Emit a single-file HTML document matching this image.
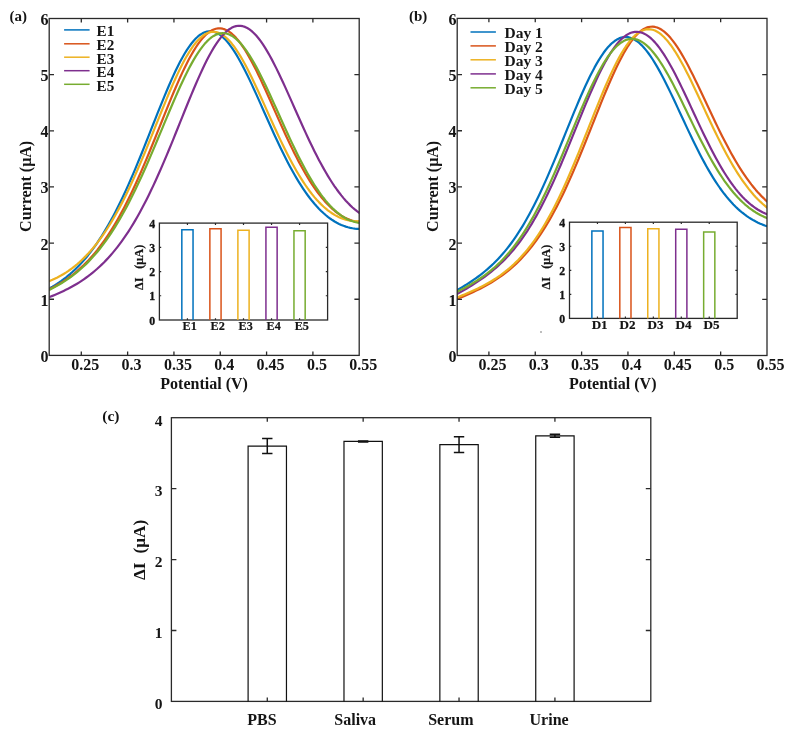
<!DOCTYPE html>
<html><head><meta charset="utf-8"><style>
html,body{margin:0;padding:0;background:#fff;}
body{width:792px;height:735px;overflow:hidden;}
svg{display:block;filter:blur(0.4px);}
</style></head><body>
<svg width="792" height="735" viewBox="0 0 792 735">
<rect width="792" height="735" fill="#fff"/>
<clipPath id="clipa"><rect x="49.2" y="18.5" width="310.0" height="336.9"/></clipPath>
<g clip-path="url(#clipa)" fill="none" stroke-width="2.2" stroke-linejoin="round" stroke-linecap="round">
<path d="M47.95,289.2 L50.19,287.99 L52.43,286.71 L54.67,285.36 L56.91,283.95 L59.15,282.46 L61.39,280.89 L63.63,279.24 L65.86,277.51 L68.1,275.69 L70.34,273.79 L72.58,271.79 L74.82,269.69 L77.06,267.5 L79.3,265.2 L81.54,262.8 L83.78,260.29 L86.02,257.67 L88.26,254.94 L90.5,252.08 L92.74,249.12 L94.98,246.02 L97.22,242.81 L99.45,239.47 L101.69,236 L103.93,232.41 L106.17,228.68 L108.41,224.83 L110.65,220.84 L112.89,216.72 L115.13,212.48 L117.37,208.1 L119.61,203.6 L121.85,198.97 L124.09,194.22 L126.33,189.36 L128.57,184.38 L130.81,179.29 L133.05,174.1 L135.28,168.82 L137.52,163.45 L139.76,158 L142,152.48 L144.24,146.91 L146.48,141.28 L148.72,135.63 L150.96,129.95 L153.2,124.27 L155.44,118.6 L157.68,112.96 L159.92,107.35 L162.16,101.81 L164.4,96.34 L166.64,90.97 L168.87,85.72 L171.11,80.6 L173.35,75.63 L175.59,70.84 L177.83,66.24 L180.07,61.85 L182.31,57.7 L184.55,53.79 L186.79,50.15 L189.03,46.79 L191.27,43.73 L193.51,40.98 L195.75,38.55 L197.99,36.46 L200.23,34.71 L202.47,33.32 L204.7,32.28 L206.94,31.61 L209.18,31.3 L211.42,31.35 L213.66,31.77 L215.9,32.55 L218.14,33.68 L220.38,35.15 L222.62,36.96 L224.86,39.1 L227.1,41.54 L229.34,44.29 L231.58,47.32 L233.82,50.62 L236.06,54.16 L238.29,57.94 L240.53,61.93 L242.77,66.11 L245.01,70.47 L247.25,74.98 L249.49,79.62 L251.73,84.38 L253.97,89.23 L256.21,94.16 L258.45,99.14 L260.69,104.16 L262.93,109.2 L265.17,114.25 L267.41,119.29 L269.65,124.3 L271.89,129.26 L274.12,134.18 L276.36,139.03 L278.6,143.8 L280.84,148.48 L283.08,153.07 L285.32,157.55 L287.56,161.91 L289.8,166.16 L292.04,170.28 L294.28,174.27 L296.52,178.12 L298.76,181.84 L301,185.41 L303.24,188.84 L305.48,192.12 L307.71,195.25 L309.95,198.23 L312.19,201.07 L314.43,203.76 L316.67,206.3 L318.91,208.69 L321.15,210.94 L323.39,213.04 L325.63,215.01 L327.87,216.83 L330.11,218.51 L332.35,220.05 L334.59,221.47 L336.83,222.75 L339.07,223.9 L341.31,224.92 L343.54,225.83 L345.78,226.61 L348.02,227.27 L350.26,227.82 L352.5,228.26 L354.74,228.59 L356.98,228.81 L359.22,228.92" stroke="#0072BD"/>
<path d="M47.95,289.79 L50.19,288.73 L52.43,287.61 L54.67,286.44 L56.91,285.21 L59.15,283.93 L61.39,282.58 L63.63,281.17 L65.86,279.69 L68.1,278.13 L70.34,276.51 L72.58,274.81 L74.82,273.02 L77.06,271.16 L79.3,269.2 L81.54,267.16 L83.78,265.03 L86.02,262.8 L88.26,260.47 L90.5,258.03 L92.74,255.5 L94.98,252.85 L97.22,250.1 L99.45,247.23 L101.69,244.24 L103.93,241.14 L106.17,237.91 L108.41,234.57 L110.65,231.1 L112.89,227.51 L115.13,223.79 L117.37,219.94 L119.61,215.97 L121.85,211.87 L124.09,207.65 L126.33,203.3 L128.57,198.83 L130.81,194.24 L133.05,189.53 L135.28,184.71 L137.52,179.78 L139.76,174.75 L142,169.62 L144.24,164.4 L146.48,159.1 L148.72,153.72 L150.96,148.28 L153.2,142.79 L155.44,137.25 L157.68,131.68 L159.92,126.1 L162.16,120.51 L164.4,114.93 L166.64,109.38 L168.87,103.86 L171.11,98.41 L173.35,93.04 L175.59,87.76 L177.83,82.59 L180.07,77.55 L182.31,72.66 L184.55,67.94 L186.79,63.41 L189.03,59.08 L191.27,54.97 L193.51,51.11 L195.75,47.5 L197.99,44.16 L200.23,41.11 L202.47,38.37 L204.7,35.93 L206.94,33.82 L209.18,32.04 L211.42,30.61 L213.66,29.52 L215.9,28.79 L218.14,28.41 L220.38,28.38 L222.62,28.71 L224.86,29.39 L227.1,30.42 L229.34,31.79 L231.58,33.49 L233.82,35.51 L236.06,37.85 L238.29,40.48 L240.53,43.4 L242.77,46.58 L245.01,50.02 L247.25,53.69 L249.49,57.58 L251.73,61.67 L253.97,65.94 L256.21,70.37 L258.45,74.95 L260.69,79.64 L262.93,84.44 L265.17,89.33 L267.41,94.27 L269.65,99.27 L271.89,104.3 L274.12,109.34 L276.36,114.38 L278.6,119.4 L280.84,124.38 L283.08,129.32 L285.32,134.2 L287.56,139.01 L289.8,143.74 L292.04,148.37 L294.28,152.9 L296.52,157.32 L298.76,161.62 L301,165.79 L303.24,169.84 L305.48,173.74 L307.71,177.5 L309.95,181.12 L312.19,184.59 L314.43,187.91 L316.67,191.07 L318.91,194.08 L321.15,196.93 L323.39,199.63 L325.63,202.17 L327.87,204.55 L330.11,206.78 L332.35,208.85 L334.59,210.77 L336.83,212.53 L339.07,214.15 L341.31,215.61 L343.54,216.93 L345.78,218.1 L348.02,219.13 L350.26,220.02 L352.5,220.77 L354.74,221.38 L356.98,221.86 L359.22,222.21" stroke="#D95319"/>
<path d="M47.95,281.74 L50.19,280.83 L52.43,279.86 L54.67,278.82 L56.91,277.72 L59.15,276.54 L61.39,275.3 L63.63,273.97 L65.86,272.57 L68.1,271.09 L70.34,269.52 L72.58,267.86 L74.82,266.11 L77.06,264.26 L79.3,262.32 L81.54,260.27 L83.78,258.13 L86.02,255.87 L88.26,253.5 L90.5,251.02 L92.74,248.42 L94.98,245.7 L97.22,242.87 L99.45,239.9 L101.69,236.81 L103.93,233.6 L106.17,230.25 L108.41,226.77 L110.65,223.16 L112.89,219.42 L115.13,215.54 L117.37,211.53 L119.61,207.39 L121.85,203.12 L124.09,198.72 L126.33,194.19 L128.57,189.54 L130.81,184.77 L133.05,179.89 L135.28,174.9 L137.52,169.8 L139.76,164.62 L142,159.34 L144.24,153.99 L146.48,148.57 L148.72,143.09 L150.96,137.57 L153.2,132.02 L155.44,126.45 L157.68,120.88 L159.92,115.31 L162.16,109.78 L164.4,104.3 L166.64,98.87 L168.87,93.53 L171.11,88.29 L173.35,83.17 L175.59,78.19 L177.83,73.37 L180.07,68.73 L182.31,64.28 L184.55,60.05 L186.79,56.06 L189.03,52.32 L191.27,48.85 L193.51,45.66 L195.75,42.78 L197.99,40.21 L200.23,37.97 L202.47,36.06 L204.7,34.5 L206.94,33.29 L209.18,32.44 L211.42,31.95 L213.66,31.83 L215.9,32.06 L218.14,32.65 L220.38,33.6 L222.62,34.89 L224.86,36.52 L227.1,38.48 L229.34,40.76 L231.58,43.34 L233.82,46.22 L236.06,49.36 L238.29,52.76 L240.53,56.4 L242.77,60.26 L245.01,64.32 L247.25,68.56 L249.49,72.96 L251.73,77.5 L253.97,82.17 L256.21,86.93 L258.45,91.78 L260.69,96.69 L262.93,101.64 L265.17,106.62 L267.41,111.61 L269.65,116.58 L271.89,121.54 L274.12,126.46 L276.36,131.32 L278.6,136.13 L280.84,140.85 L283.08,145.49 L285.32,150.03 L287.56,154.46 L289.8,158.77 L292.04,162.97 L294.28,167.03 L296.52,170.96 L298.76,174.75 L301,178.4 L303.24,181.9 L305.48,185.25 L307.71,188.45 L309.95,191.49 L312.19,194.38 L314.43,197.12 L316.67,199.7 L318.91,202.12 L321.15,204.39 L323.39,206.51 L325.63,208.48 L327.87,210.29 L330.11,211.96 L332.35,213.48 L334.59,214.86 L336.83,216.09 L339.07,217.19 L341.31,218.14 L343.54,218.97 L345.78,219.66 L348.02,220.22 L350.26,220.65 L352.5,220.97 L354.74,221.16 L356.98,221.23 L359.22,221.18" stroke="#EDB120"/>
<path d="M47.95,297.6 L50.19,296.74 L52.43,295.86 L54.67,294.94 L56.91,294 L59.15,293.02 L61.39,292.01 L63.63,290.95 L65.86,289.86 L68.1,288.73 L70.34,287.55 L72.58,286.32 L74.82,285.04 L77.06,283.7 L79.3,282.31 L81.54,280.86 L83.78,279.35 L86.02,277.77 L88.26,276.12 L90.5,274.41 L92.74,272.61 L94.98,270.74 L97.22,268.79 L99.45,266.76 L101.69,264.63 L103.93,262.42 L106.17,260.11 L108.41,257.71 L110.65,255.21 L112.89,252.6 L115.13,249.89 L117.37,247.07 L119.61,244.14 L121.85,241.1 L124.09,237.94 L126.33,234.67 L128.57,231.27 L130.81,227.75 L133.05,224.12 L135.28,220.35 L137.52,216.47 L139.76,212.46 L142,208.33 L144.24,204.07 L146.48,199.69 L148.72,195.2 L150.96,190.58 L153.2,185.85 L155.44,181.02 L157.68,176.07 L159.92,171.03 L162.16,165.89 L164.4,160.67 L166.64,155.36 L168.87,149.98 L171.11,144.55 L173.35,139.06 L175.59,133.53 L177.83,127.97 L180.07,122.4 L182.31,116.83 L184.55,111.27 L186.79,105.74 L189.03,100.25 L191.27,94.83 L193.51,89.48 L195.75,84.24 L197.99,79.1 L200.23,74.1 L202.47,69.25 L204.7,64.58 L206.94,60.09 L209.18,55.8 L211.42,51.74 L213.66,47.92 L215.9,44.36 L218.14,41.08 L220.38,38.08 L222.62,35.38 L224.86,33 L227.1,30.94 L229.34,29.22 L231.58,27.83 L233.82,26.8 L236.06,26.11 L238.29,25.78 L240.53,25.81 L242.77,26.18 L245.01,26.91 L247.25,27.99 L249.49,29.4 L251.73,31.14 L253.97,33.2 L256.21,35.58 L258.45,38.25 L260.69,41.2 L262.93,44.42 L265.17,47.88 L267.41,51.59 L269.65,55.5 L271.89,59.62 L274.12,63.91 L276.36,68.37 L278.6,72.96 L280.84,77.68 L283.08,82.49 L285.32,87.39 L287.56,92.36 L289.8,97.37 L292.04,102.41 L294.28,107.47 L296.52,112.52 L298.76,117.55 L301,122.55 L303.24,127.5 L305.48,132.39 L307.71,137.22 L309.95,141.95 L312.19,146.6 L314.43,151.14 L316.67,155.57 L318.91,159.89 L321.15,164.08 L323.39,168.14 L325.63,172.06 L327.87,175.84 L330.11,179.48 L332.35,182.97 L334.59,186.31 L336.83,189.49 L339.07,192.52 L341.31,195.4 L343.54,198.12 L345.78,200.69 L348.02,203.1 L350.26,205.36 L352.5,207.46 L354.74,209.41 L356.98,211.21 L359.22,212.86" stroke="#7E2F8E"/>
<path d="M47.95,290.47 L50.19,289.39 L52.43,288.26 L54.67,287.09 L56.91,285.87 L59.15,284.6 L61.39,283.27 L63.63,281.88 L65.86,280.43 L68.1,278.91 L70.34,277.33 L72.58,275.68 L74.82,273.95 L77.06,272.15 L79.3,270.26 L81.54,268.29 L83.78,266.24 L86.02,264.1 L88.26,261.86 L90.5,259.53 L92.74,257.1 L94.98,254.57 L97.22,251.94 L99.45,249.2 L101.69,246.35 L103.93,243.39 L106.17,240.32 L108.41,237.14 L110.65,233.84 L112.89,230.42 L115.13,226.88 L117.37,223.23 L119.61,219.45 L121.85,215.56 L124.09,211.55 L126.33,207.42 L128.57,203.17 L130.81,198.82 L133.05,194.35 L135.28,189.77 L137.52,185.09 L139.76,180.31 L142,175.44 L144.24,170.47 L146.48,165.43 L148.72,160.31 L150.96,155.13 L153.2,149.89 L155.44,144.6 L157.68,139.27 L159.92,133.92 L162.16,128.55 L164.4,123.19 L166.64,117.83 L168.87,112.5 L171.11,107.22 L173.35,101.99 L175.59,96.83 L177.83,91.76 L180.07,86.8 L182.31,81.95 L184.55,77.25 L186.79,72.7 L189.03,68.32 L191.27,64.14 L193.51,60.15 L195.75,56.39 L197.99,52.87 L200.23,49.59 L202.47,46.58 L204.7,43.85 L206.94,41.41 L209.18,39.27 L211.42,37.43 L213.66,35.92 L215.9,34.73 L218.14,33.86 L220.38,33.33 L222.62,33.14 L224.86,33.27 L227.1,33.75 L229.34,34.55 L231.58,35.68 L233.82,37.12 L236.06,38.88 L238.29,40.95 L240.53,43.3 L242.77,45.94 L245.01,48.85 L247.25,52.01 L249.49,55.41 L251.73,59.04 L253.97,62.87 L256.21,66.9 L258.45,71.09 L260.69,75.45 L262.93,79.94 L265.17,84.56 L267.41,89.28 L269.65,94.08 L271.89,98.95 L274.12,103.87 L276.36,108.82 L278.6,113.79 L280.84,118.76 L283.08,123.72 L285.32,128.65 L287.56,133.54 L289.8,138.38 L292.04,143.14 L294.28,147.83 L296.52,152.43 L298.76,156.94 L301,161.33 L303.24,165.6 L305.48,169.76 L307.71,173.78 L309.95,177.66 L312.19,181.4 L314.43,184.99 L316.67,188.43 L318.91,191.72 L321.15,194.85 L323.39,197.81 L325.63,200.61 L327.87,203.25 L330.11,205.72 L332.35,208.03 L334.59,210.17 L336.83,212.14 L339.07,213.94 L341.31,215.58 L343.54,217.05 L345.78,218.36 L348.02,219.5 L350.26,220.48 L352.5,221.3 L354.74,221.97 L356.98,222.47 L359.22,222.82" stroke="#77AC30"/>
</g>
<rect x="49.2" y="18.5" width="310.0" height="336.9" fill="none" stroke="#2a2a2a" stroke-width="1.3"/>
<path d="M81.3,355.4 V351.5 M81.3,18.5 V22.4 M127.62,355.4 V351.5 M127.62,18.5 V22.4 M173.94,355.4 V351.5 M173.94,18.5 V22.4 M220.26,355.4 V351.5 M220.26,18.5 V22.4 M266.58,355.4 V351.5 M266.58,18.5 V22.4 M312.9,355.4 V351.5 M312.9,18.5 V22.4 M49.2,299.25 H54 M359.2,299.25 H354.4 M49.2,243.1 H54 M359.2,243.1 H354.4 M49.2,186.95 H54 M359.2,186.95 H354.4 M49.2,130.8 H54 M359.2,130.8 H354.4 M49.2,74.65 H54 M359.2,74.65 H354.4" stroke="#2a2a2a" stroke-width="1.3" fill="none"/>
<g font-family="Liberation Serif" font-weight="bold" font-size="16" fill="#141414">
<text x="85.3" y="369.6" text-anchor="middle">0.25</text>
<text x="131.62" y="369.6" text-anchor="middle">0.3</text>
<text x="177.94" y="369.6" text-anchor="middle">0.35</text>
<text x="224.26" y="369.6" text-anchor="middle">0.4</text>
<text x="270.58" y="369.6" text-anchor="middle">0.45</text>
<text x="316.9" y="369.6" text-anchor="middle">0.5</text>
<text x="363.22" y="369.6" text-anchor="middle">0.55</text>
<text x="48.4" y="361.8" text-anchor="end">0</text>
<text x="48.4" y="305.65" text-anchor="end">1</text>
<text x="48.4" y="249.5" text-anchor="end">2</text>
<text x="48.4" y="193.35" text-anchor="end">3</text>
<text x="48.4" y="137.2" text-anchor="end">4</text>
<text x="48.4" y="81.05" text-anchor="end">5</text>
<text x="48.4" y="24.9" text-anchor="end">6</text>
<text x="204.1" y="388.6" text-anchor="middle">Potential (V)</text>
<text transform="translate(31,186.4) rotate(-90)" text-anchor="middle">Current (μA)</text>
<text x="9.6" y="21.1" font-size="15">(a)</text>
</g>
<g font-family="Liberation Serif" font-weight="bold" font-size="15.2" fill="#141414">
<path d="M64.1,29.9 H89.6" stroke="#0072BD" stroke-width="1.5"/>
<text x="96.5" y="36.3">E1</text>
<path d="M64.1,43.8 H89.6" stroke="#D95319" stroke-width="1.5"/>
<text x="96.5" y="50.2">E2</text>
<path d="M64.1,57.2 H89.6" stroke="#EDB120" stroke-width="1.5"/>
<text x="96.5" y="63.6">E3</text>
<path d="M64.1,70.7 H89.6" stroke="#7E2F8E" stroke-width="1.5"/>
<text x="96.5" y="77.1">E4</text>
<path d="M64.1,84.3 H89.6" stroke="#77AC30" stroke-width="1.5"/>
<text x="96.5" y="90.7">E5</text>
</g>
<rect x="159.4" y="223.1" width="168.20000000000002" height="96.9" fill="#fff" stroke="#2a2a2a" stroke-width="1.3"/>
<path d="M181.83,320 V229.64 H193.04 V320" fill="none" stroke="#0072BD" stroke-width="1.5"/>
<path d="M209.86,320 V228.67 H221.07 V320" fill="none" stroke="#D95319" stroke-width="1.5"/>
<path d="M237.89,320 V230.37 H249.11 V320" fill="none" stroke="#EDB120" stroke-width="1.5"/>
<path d="M265.93,320 V227.22 H277.14 V320" fill="none" stroke="#7E2F8E" stroke-width="1.5"/>
<path d="M293.96,320 V230.85 H305.17 V320" fill="none" stroke="#77AC30" stroke-width="1.5"/>
<path d="M187.43,320 V318.2 M187.43,223.1 V224.9 M215.47,320 V318.2 M215.47,223.1 V224.9 M243.5,320 V318.2 M243.5,223.1 V224.9 M271.53,320 V318.2 M271.53,223.1 V224.9 M299.57,320 V318.2 M299.57,223.1 V224.9 M159.4,295.77 H161.2 M327.6,295.77 H325.8 M159.4,271.55 H161.2 M327.6,271.55 H325.8 M159.4,247.32 H161.2 M327.6,247.32 H325.8" stroke="#2a2a2a" stroke-width="1.2" fill="none"/>
<g font-family="Liberation Serif" font-weight="bold" font-size="11.8" fill="#141414" stroke="#141414" stroke-width="0.3">
<text x="155.1" y="324.7" text-anchor="end">0</text>
<text x="155.1" y="300.47" text-anchor="end">1</text>
<text x="155.1" y="276.25" text-anchor="end">2</text>
<text x="155.1" y="252.02" text-anchor="end">3</text>
<text x="155.1" y="227.8" text-anchor="end">4</text>
</g>
<g font-family="Liberation Serif" font-weight="bold" font-size="12.2" fill="#141414" stroke="#141414" stroke-width="0.2">
<text x="189.63" y="330.2" text-anchor="middle">E1</text>
<text x="217.67" y="330.2" text-anchor="middle">E2</text>
<text x="245.7" y="330.2" text-anchor="middle">E3</text>
<text x="273.73" y="330.2" text-anchor="middle">E4</text>
<text x="301.77" y="330.2" text-anchor="middle">E5</text>
</g>
<g font-family="Liberation Serif" font-weight="bold" font-size="12.3" fill="#141414" stroke="#141414" stroke-width="0.2">
<text transform="translate(142.8,290) rotate(-90)">ΔI</text>
<text transform="translate(142.8,268.8) rotate(-90)">(μA)</text>
</g>
<clipPath id="clipb"><rect x="457.2" y="18.4" width="309.8" height="337.1"/></clipPath>
<g clip-path="url(#clipb)" fill="none" stroke-width="2.2" stroke-linejoin="round" stroke-linecap="round">
<path d="M455.53,291.07 L457.77,289.79 L460.01,288.49 L462.25,287.15 L464.49,285.79 L466.73,284.39 L468.97,282.95 L471.21,281.48 L473.45,279.95 L475.7,278.38 L477.94,276.76 L480.18,275.07 L482.42,273.33 L484.66,271.51 L486.9,269.63 L489.14,267.66 L491.38,265.62 L493.62,263.49 L495.86,261.26 L498.1,258.94 L500.34,256.52 L502.58,253.99 L504.83,251.35 L507.07,248.6 L509.31,245.73 L511.55,242.73 L513.79,239.61 L516.03,236.35 L518.27,232.97 L520.51,229.45 L522.75,225.8 L524.99,222.01 L527.23,218.08 L529.47,214.01 L531.72,209.81 L533.96,205.47 L536.2,201 L538.44,196.41 L540.68,191.69 L542.92,186.85 L545.16,181.89 L547.4,176.83 L549.64,171.68 L551.88,166.43 L554.12,161.11 L556.36,155.71 L558.61,150.26 L560.85,144.77 L563.09,139.25 L565.33,133.71 L567.57,128.17 L569.81,122.64 L572.05,117.14 L574.29,111.69 L576.53,106.31 L578.77,101 L581.01,95.8 L583.25,90.71 L585.49,85.76 L587.74,80.96 L589.98,76.32 L592.22,71.88 L594.46,67.64 L596.7,63.62 L598.94,59.83 L601.18,56.29 L603.42,53.02 L605.66,50.02 L607.9,47.32 L610.14,44.91 L612.38,42.8 L614.63,41.02 L616.87,39.55 L619.11,38.41 L621.35,37.61 L623.59,37.13 L625.83,36.99 L628.07,37.19 L630.31,37.71 L632.55,38.56 L634.79,39.72 L637.03,41.21 L639.27,42.99 L641.51,45.08 L643.76,47.45 L646,50.09 L648.24,52.99 L650.48,56.14 L652.72,59.51 L654.96,63.11 L657.2,66.9 L659.44,70.87 L661.68,75.01 L663.92,79.3 L666.16,83.71 L668.4,88.24 L670.65,92.86 L672.89,97.55 L675.13,102.3 L677.37,107.1 L679.61,111.92 L681.85,116.74 L684.09,121.56 L686.33,126.36 L688.57,131.12 L690.81,135.82 L693.05,140.47 L695.29,145.04 L697.54,149.53 L699.78,153.92 L702.02,158.21 L704.26,162.38 L706.5,166.44 L708.74,170.37 L710.98,174.17 L713.22,177.84 L715.46,181.37 L717.7,184.75 L719.94,188 L722.18,191.1 L724.42,194.06 L726.67,196.87 L728.91,199.55 L731.15,202.08 L733.39,204.47 L735.63,206.73 L737.87,208.86 L740.11,210.85 L742.35,212.72 L744.59,214.47 L746.83,216.1 L749.07,217.62 L751.31,219.03 L753.56,220.33 L755.8,221.54 L758.04,222.65 L760.28,223.67 L762.52,224.61 L764.76,225.47 L767,226.25" stroke="#0072BD"/>
<path d="M455.53,299.62 L457.77,298.72 L460.01,297.8 L462.25,296.87 L464.49,295.92 L466.73,294.95 L468.97,293.96 L471.21,292.95 L473.45,291.92 L475.7,290.86 L477.94,289.77 L480.18,288.65 L482.42,287.49 L484.66,286.3 L486.9,285.07 L489.14,283.79 L491.38,282.47 L493.62,281.1 L495.86,279.68 L498.1,278.2 L500.34,276.66 L502.58,275.06 L504.83,273.39 L507.07,271.65 L509.31,269.83 L511.55,267.93 L513.79,265.95 L516.03,263.88 L518.27,261.71 L520.51,259.45 L522.75,257.09 L524.99,254.63 L527.23,252.05 L529.47,249.37 L531.72,246.57 L533.96,243.65 L536.2,240.6 L538.44,237.43 L540.68,234.14 L542.92,230.71 L545.16,227.16 L547.4,223.47 L549.64,219.64 L551.88,215.69 L554.12,211.59 L556.36,207.37 L558.61,203.01 L560.85,198.53 L563.09,193.92 L565.33,189.18 L567.57,184.33 L569.81,179.36 L572.05,174.28 L574.29,169.1 L576.53,163.83 L578.77,158.48 L581.01,153.04 L583.25,147.55 L585.49,141.99 L587.74,136.4 L589.98,130.77 L592.22,125.13 L594.46,119.48 L596.7,113.85 L598.94,108.25 L601.18,102.69 L603.42,97.2 L605.66,91.78 L607.9,86.46 L610.14,81.26 L612.38,76.2 L614.63,71.28 L616.87,66.54 L619.11,61.98 L621.35,57.64 L623.59,53.52 L625.83,49.64 L628.07,46.02 L630.31,42.67 L632.55,39.61 L634.79,36.85 L637.03,34.4 L639.27,32.27 L641.51,30.48 L643.76,29.02 L646,27.91 L648.24,27.14 L650.48,26.73 L652.72,26.66 L654.96,26.94 L657.2,27.56 L659.44,28.52 L661.68,29.81 L663.92,31.42 L666.16,33.35 L668.4,35.57 L670.65,38.08 L672.89,40.86 L675.13,43.89 L677.37,47.17 L679.61,50.67 L681.85,54.38 L684.09,58.27 L686.33,62.34 L688.57,66.55 L690.81,70.9 L693.05,75.36 L695.29,79.92 L697.54,84.56 L699.78,89.25 L702.02,93.99 L704.26,98.76 L706.5,103.54 L708.74,108.32 L710.98,113.08 L713.22,117.8 L715.46,122.49 L717.7,127.12 L719.94,131.68 L722.18,136.16 L724.42,140.56 L726.67,144.86 L728.91,149.06 L731.15,153.16 L733.39,157.14 L735.63,160.99 L737.87,164.73 L740.11,168.34 L742.35,171.82 L744.59,175.17 L746.83,178.38 L749.07,181.46 L751.31,184.41 L753.56,187.22 L755.8,189.9 L758.04,192.45 L760.28,194.87 L762.52,197.16 L764.76,199.32 L767,201.37" stroke="#D95319"/>
<path d="M455.53,298.05 L457.77,297.18 L460.01,296.29 L462.25,295.38 L464.49,294.46 L466.73,293.52 L468.97,292.56 L471.21,291.57 L473.45,290.56 L475.7,289.51 L477.94,288.44 L480.18,287.33 L482.42,286.19 L484.66,285.01 L486.9,283.78 L489.14,282.51 L491.38,281.18 L493.62,279.8 L495.86,278.37 L498.1,276.87 L500.34,275.31 L502.58,273.67 L504.83,271.97 L507.07,270.18 L509.31,268.31 L511.55,266.36 L513.79,264.31 L516.03,262.16 L518.27,259.92 L520.51,257.57 L522.75,255.11 L524.99,252.54 L527.23,249.85 L529.47,247.04 L531.72,244.1 L533.96,241.04 L536.2,237.85 L538.44,234.52 L540.68,231.06 L542.92,227.46 L545.16,223.72 L547.4,219.85 L549.64,215.83 L551.88,211.68 L554.12,207.39 L556.36,202.97 L558.61,198.41 L560.85,193.73 L563.09,188.92 L565.33,183.99 L567.57,178.95 L569.81,173.8 L572.05,168.55 L574.29,163.21 L576.53,157.79 L578.77,152.3 L581.01,146.75 L583.25,141.15 L585.49,135.52 L587.74,129.86 L589.98,124.2 L592.22,118.55 L594.46,112.93 L596.7,107.34 L598.94,101.81 L601.18,96.36 L603.42,91 L605.66,85.75 L607.9,80.63 L610.14,75.66 L612.38,70.86 L614.63,66.24 L616.87,61.82 L619.11,57.62 L621.35,53.66 L623.59,49.95 L625.83,46.5 L628.07,43.34 L630.31,40.47 L632.55,37.9 L634.79,35.66 L637.03,33.73 L639.27,32.14 L641.51,30.89 L643.76,29.98 L646,29.41 L648.24,29.19 L650.48,29.32 L652.72,29.78 L654.96,30.59 L657.2,31.72 L659.44,33.18 L661.68,34.96 L663.92,37.03 L666.16,39.4 L668.4,42.05 L670.65,44.96 L672.89,48.13 L675.13,51.52 L677.37,55.13 L679.61,58.94 L681.85,62.93 L684.09,67.09 L686.33,71.39 L688.57,75.81 L690.81,80.35 L693.05,84.97 L695.29,89.67 L697.54,94.43 L699.78,99.22 L702.02,104.03 L704.26,108.85 L706.5,113.67 L708.74,118.45 L710.98,123.21 L713.22,127.91 L715.46,132.55 L717.7,137.12 L719.94,141.6 L722.18,146 L724.42,150.29 L726.67,154.47 L728.91,158.54 L731.15,162.49 L733.39,166.32 L735.63,170.01 L737.87,173.58 L740.11,177 L742.35,180.3 L744.59,183.45 L746.83,186.46 L749.07,189.34 L751.31,192.07 L753.56,194.67 L755.8,197.14 L758.04,199.47 L760.28,201.67 L762.52,203.75 L764.76,205.7 L767,207.53" stroke="#EDB120"/>
<path d="M455.53,294.94 L457.77,293.66 L460.01,292.38 L462.25,291.08 L464.49,289.77 L466.73,288.44 L468.97,287.09 L471.21,285.71 L473.45,284.31 L475.7,282.88 L477.94,281.41 L480.18,279.9 L482.42,278.34 L484.66,276.74 L486.9,275.09 L489.14,273.38 L491.38,271.61 L493.62,269.77 L495.86,267.86 L498.1,265.87 L500.34,263.81 L502.58,261.65 L504.83,259.41 L507.07,257.07 L509.31,254.64 L511.55,252.09 L513.79,249.44 L516.03,246.67 L518.27,243.79 L520.51,240.79 L522.75,237.66 L524.99,234.4 L527.23,231.02 L529.47,227.5 L531.72,223.85 L533.96,220.06 L536.2,216.14 L538.44,212.08 L540.68,207.89 L542.92,203.57 L545.16,199.12 L547.4,194.54 L549.64,189.84 L551.88,185.02 L554.12,180.09 L556.36,175.06 L558.61,169.93 L560.85,164.71 L563.09,159.41 L565.33,154.04 L567.57,148.62 L569.81,143.14 L572.05,137.64 L574.29,132.11 L576.53,126.58 L578.77,121.05 L581.01,115.55 L583.25,110.09 L585.49,104.69 L587.74,99.36 L589.98,94.11 L592.22,88.98 L594.46,83.96 L596.7,79.09 L598.94,74.38 L601.18,69.83 L603.42,65.48 L605.66,61.33 L607.9,57.41 L610.14,53.72 L612.38,50.28 L614.63,47.1 L616.87,44.2 L619.11,41.58 L621.35,39.25 L623.59,37.23 L625.83,35.52 L628.07,34.13 L630.31,33.05 L632.55,32.3 L634.79,31.88 L637.03,31.79 L639.27,32.02 L641.51,32.57 L643.76,33.45 L646,34.63 L648.24,36.13 L650.48,37.93 L652.72,40.01 L654.96,42.38 L657.2,45.01 L659.44,47.9 L661.68,51.04 L663.92,54.4 L666.16,57.98 L668.4,61.75 L670.65,65.71 L672.89,69.83 L675.13,74.09 L677.37,78.49 L679.61,83 L681.85,87.61 L684.09,92.29 L686.33,97.04 L688.57,101.83 L690.81,106.65 L693.05,111.48 L695.29,116.3 L697.54,121.1 L699.78,125.87 L702.02,130.6 L704.26,135.26 L706.5,139.85 L708.74,144.35 L710.98,148.76 L713.22,153.06 L715.46,157.25 L717.7,161.32 L719.94,165.27 L722.18,169.07 L724.42,172.74 L726.67,176.26 L728.91,179.64 L731.15,182.86 L733.39,185.94 L735.63,188.85 L737.87,191.62 L740.11,194.23 L742.35,196.68 L744.59,198.98 L746.83,201.14 L749.07,203.14 L751.31,205 L753.56,206.71 L755.8,208.28 L758.04,209.72 L760.28,211.02 L762.52,212.2 L764.76,213.25 L767,214.18" stroke="#7E2F8E"/>
<path d="M455.53,292.5 L457.77,291.4 L460.01,290.27 L462.25,289.11 L464.49,287.92 L466.73,286.7 L468.97,285.45 L471.21,284.15 L473.45,282.82 L475.7,281.43 L477.94,280 L480.18,278.51 L482.42,276.96 L484.66,275.35 L486.9,273.68 L489.14,271.93 L491.38,270.1 L493.62,268.2 L495.86,266.2 L498.1,264.12 L500.34,261.95 L502.58,259.67 L504.83,257.3 L507.07,254.81 L509.31,252.22 L511.55,249.5 L513.79,246.67 L516.03,243.72 L518.27,240.64 L520.51,237.43 L522.75,234.1 L524.99,230.63 L527.23,227.03 L529.47,223.29 L531.72,219.42 L533.96,215.42 L536.2,211.29 L538.44,207.02 L540.68,202.63 L542.92,198.11 L545.16,193.48 L547.4,188.73 L549.64,183.87 L551.88,178.91 L554.12,173.86 L556.36,168.72 L558.61,163.5 L560.85,158.22 L563.09,152.88 L565.33,147.51 L567.57,142.1 L569.81,136.67 L572.05,131.24 L574.29,125.82 L576.53,120.43 L578.77,115.08 L581.01,109.79 L583.25,104.57 L585.49,99.45 L587.74,94.43 L589.98,89.53 L592.22,84.77 L594.46,80.17 L596.7,75.75 L598.94,71.51 L601.18,67.47 L603.42,63.65 L605.66,60.07 L607.9,56.73 L610.14,53.64 L612.38,50.83 L614.63,48.29 L616.87,46.04 L619.11,44.09 L621.35,42.44 L623.59,41.1 L625.83,40.07 L628.07,39.35 L630.31,38.95 L632.55,38.87 L634.79,39.1 L637.03,39.64 L639.27,40.5 L641.51,41.65 L643.76,43.1 L646,44.84 L648.24,46.86 L650.48,49.14 L652.72,51.69 L654.96,54.47 L657.2,57.49 L659.44,60.73 L661.68,64.16 L663.92,67.79 L666.16,71.59 L668.4,75.54 L670.65,79.64 L672.89,83.85 L675.13,88.17 L677.37,92.59 L679.61,97.07 L681.85,101.61 L684.09,106.19 L686.33,110.8 L688.57,115.42 L690.81,120.03 L693.05,124.62 L695.29,129.18 L697.54,133.69 L699.78,138.15 L702.02,142.54 L704.26,146.85 L706.5,151.07 L708.74,155.19 L710.98,159.21 L713.22,163.12 L715.46,166.91 L717.7,170.57 L719.94,174.11 L722.18,177.52 L724.42,180.79 L726.67,183.92 L728.91,186.92 L731.15,189.78 L733.39,192.5 L735.63,195.08 L737.87,197.53 L740.11,199.84 L742.35,202.01 L744.59,204.06 L746.83,205.97 L749.07,207.77 L751.31,209.44 L753.56,210.99 L755.8,212.43 L758.04,213.76 L760.28,214.98 L762.52,216.11 L764.76,217.13 L767,218.07" stroke="#77AC30"/>
</g>
<rect x="457.2" y="18.4" width="309.8" height="337.1" fill="none" stroke="#2a2a2a" stroke-width="1.3"/>
<path d="M488.9,355.5 V351.6 M488.9,18.4 V22.3 M535.25,355.5 V351.6 M535.25,18.4 V22.3 M581.6,355.5 V351.6 M581.6,18.4 V22.3 M627.95,355.5 V351.6 M627.95,18.4 V22.3 M674.3,355.5 V351.6 M674.3,18.4 V22.3 M720.65,355.5 V351.6 M720.65,18.4 V22.3 M457.2,299.32 H462 M767,299.32 H762.2 M457.2,243.13 H462 M767,243.13 H762.2 M457.2,186.95 H462 M767,186.95 H762.2 M457.2,130.77 H462 M767,130.77 H762.2 M457.2,74.58 H462 M767,74.58 H762.2" stroke="#2a2a2a" stroke-width="1.3" fill="none"/>
<g font-family="Liberation Serif" font-weight="bold" font-size="16" fill="#141414">
<text x="492.4" y="369.6" text-anchor="middle">0.25</text>
<text x="538.75" y="369.6" text-anchor="middle">0.3</text>
<text x="585.1" y="369.6" text-anchor="middle">0.35</text>
<text x="631.45" y="369.6" text-anchor="middle">0.4</text>
<text x="677.8" y="369.6" text-anchor="middle">0.45</text>
<text x="724.15" y="369.6" text-anchor="middle">0.5</text>
<text x="770.5" y="369.6" text-anchor="middle">0.55</text>
<text x="456.4" y="361.9" text-anchor="end">0</text>
<text x="456.4" y="305.72" text-anchor="end">1</text>
<text x="456.4" y="249.53" text-anchor="end">2</text>
<text x="456.4" y="193.35" text-anchor="end">3</text>
<text x="456.4" y="137.17" text-anchor="end">4</text>
<text x="456.4" y="80.98" text-anchor="end">5</text>
<text x="456.4" y="24.8" text-anchor="end">6</text>
<text x="612.7" y="388.6" text-anchor="middle">Potential (V)</text>
<text transform="translate(438,186.4) rotate(-90)" text-anchor="middle">Current (μA)</text>
<text x="409.0" y="21.1" font-size="15">(b)</text>
</g>
<g font-family="Liberation Serif" font-weight="bold" font-size="15.5" fill="#141414">
<path d="M470.5,32.0 H495.9" stroke="#0072BD" stroke-width="1.5"/>
<text x="504.5" y="38.4">Day 1</text>
<path d="M470.5,45.9 H495.9" stroke="#D95319" stroke-width="1.5"/>
<text x="504.5" y="52.3">Day 2</text>
<path d="M470.5,59.8 H495.9" stroke="#EDB120" stroke-width="1.5"/>
<text x="504.5" y="66.2">Day 3</text>
<path d="M470.5,73.9 H495.9" stroke="#7E2F8E" stroke-width="1.5"/>
<text x="504.5" y="80.3">Day 4</text>
<path d="M470.5,87.8 H495.9" stroke="#77AC30" stroke-width="1.5"/>
<text x="504.5" y="94.2">Day 5</text>
</g>
<rect x="569.5" y="222.2" width="167.70000000000005" height="96.19999999999999" fill="#fff" stroke="#2a2a2a" stroke-width="1.3"/>
<path d="M591.86,318.4 V231.1 H603.04 V318.4" fill="none" stroke="#0072BD" stroke-width="1.5"/>
<path d="M619.81,318.4 V227.49 H630.99 V318.4" fill="none" stroke="#D95319" stroke-width="1.5"/>
<path d="M647.76,318.4 V228.69 H658.94 V318.4" fill="none" stroke="#EDB120" stroke-width="1.5"/>
<path d="M675.71,318.4 V229.17 H686.89 V318.4" fill="none" stroke="#7E2F8E" stroke-width="1.5"/>
<path d="M703.66,318.4 V232.06 H714.84 V318.4" fill="none" stroke="#77AC30" stroke-width="1.5"/>
<path d="M597.45,318.4 V316.6 M597.45,222.2 V224 M625.4,318.4 V316.6 M625.4,222.2 V224 M653.35,318.4 V316.6 M653.35,222.2 V224 M681.3,318.4 V316.6 M681.3,222.2 V224 M709.25,318.4 V316.6 M709.25,222.2 V224 M569.5,294.35 H571.3 M737.2,294.35 H735.4 M569.5,270.3 H571.3 M737.2,270.3 H735.4 M569.5,246.25 H571.3 M737.2,246.25 H735.4" stroke="#2a2a2a" stroke-width="1.2" fill="none"/>
<g font-family="Liberation Serif" font-weight="bold" font-size="11.8" fill="#141414" stroke="#141414" stroke-width="0.3">
<text x="565.2" y="323.1" text-anchor="end">0</text>
<text x="565.2" y="299.05" text-anchor="end">1</text>
<text x="565.2" y="275" text-anchor="end">2</text>
<text x="565.2" y="250.95" text-anchor="end">3</text>
<text x="565.2" y="226.9" text-anchor="end">4</text>
</g>
<g font-family="Liberation Serif" font-weight="bold" font-size="13.1" fill="#141414" stroke="#141414" stroke-width="0.2">
<text x="599.65" y="328.9" text-anchor="middle">D1</text>
<text x="627.6" y="328.9" text-anchor="middle">D2</text>
<text x="655.55" y="328.9" text-anchor="middle">D3</text>
<text x="683.5" y="328.9" text-anchor="middle">D4</text>
<text x="711.45" y="328.9" text-anchor="middle">D5</text>
</g>
<g font-family="Liberation Serif" font-weight="bold" font-size="12.3" fill="#141414" stroke="#141414" stroke-width="0.2">
<text transform="translate(550.2,289.5) rotate(-90)">ΔI</text>
<text transform="translate(550.2,268.8) rotate(-90)">(μA)</text>
</g>
<rect x="171.4" y="417.7" width="479.4" height="283.7" fill="none" stroke="#2a2a2a" stroke-width="1.3"/>
<path d="M248.1,701.4 V446.07 H286.46 V701.4" fill="none" stroke="#111" stroke-width="1.2"/>
<path d="M267.28,438.62 V453.52 M262.08,438.62 H272.48 M262.08,453.52 H272.48" fill="none" stroke="#111" stroke-width="1.5"/>
<path d="M343.98,701.4 V441.46 H382.34 V701.4" fill="none" stroke="#111" stroke-width="1.2"/>
<path d="M363.16,441.03 V441.89 M357.96,441.03 H368.36 M357.96,441.89 H368.36" fill="none" stroke="#111" stroke-width="1.5"/>
<path d="M439.86,701.4 V444.65 H478.22 V701.4" fill="none" stroke="#111" stroke-width="1.2"/>
<path d="M459.04,436.85 V452.45 M453.84,436.85 H464.24 M453.84,452.45 H464.24" fill="none" stroke="#111" stroke-width="1.5"/>
<path d="M535.74,701.4 V435.79 H574.1 V701.4" fill="none" stroke="#111" stroke-width="1.2"/>
<path d="M554.92,434.23 V437.35 M549.72,434.23 H560.12 M549.72,437.35 H560.12" fill="none" stroke="#111" stroke-width="1.5"/>
<path d="M267.28,701.4 V697.4 M267.28,417.7 V421.7 M363.16,701.4 V697.4 M363.16,417.7 V421.7 M459.04,701.4 V697.4 M459.04,417.7 V421.7 M554.92,701.4 V697.4 M554.92,417.7 V421.7 M171.4,630.48 H176.4 M650.8,630.48 H645.8 M171.4,559.55 H176.4 M650.8,559.55 H645.8 M171.4,488.62 H176.4 M650.8,488.62 H645.8" stroke="#2a2a2a" stroke-width="1.3" fill="none"/>
<g font-family="Liberation Serif" font-weight="bold" font-size="15.5" fill="#141414">
<text x="162.6" y="709.2" text-anchor="end">0</text>
<text x="162.6" y="638.27" text-anchor="end">1</text>
<text x="162.6" y="567.35" text-anchor="end">2</text>
<text x="162.6" y="496.43" text-anchor="end">3</text>
<text x="162.6" y="425.5" text-anchor="end">4</text>
</g>
<g font-family="Liberation Serif" font-weight="bold" font-size="16" fill="#141414">
<text x="262" y="724.6" text-anchor="middle">PBS</text>
<text x="355.2" y="724.6" text-anchor="middle">Saliva</text>
<text x="450.8" y="724.6" text-anchor="middle">Serum</text>
<text x="549.1" y="724.6" text-anchor="middle">Urine</text>
<text x="102.3" y="420.8" font-size="15.5">(c)</text>
</g>
<g font-family="Liberation Serif" font-weight="bold" font-size="17.3" fill="#141414">
<text transform="translate(145.3,580.1) rotate(-90)">ΔI</text>
<text transform="translate(145.3,553.6) rotate(-90)">(μA)</text>
</g>
<circle cx="541" cy="331.9" r="1" fill="#a8a8a8"/>
</svg>
</body></html>
